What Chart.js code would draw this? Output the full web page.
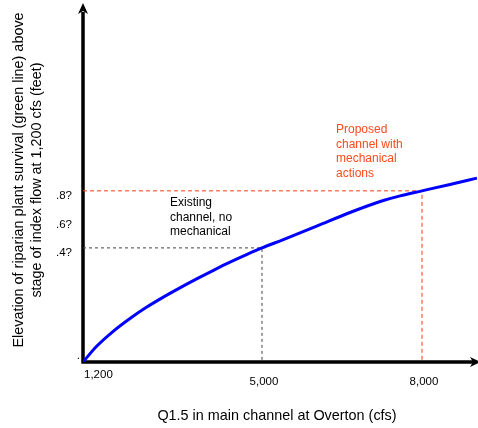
<!DOCTYPE html>
<html>
<head>
<meta charset="utf-8">
<script src="https://cdn.jsdelivr.net/npm/chart.js@4/dist/chart.umd.min.js"></script>
<style>
  html, body { margin: 0; padding: 0; background: #fff; }
  #wrap { width: 478px; height: 428px; }
</style>
</head>
<body>
<div id="wrap"><canvas id="grafico" width="478" height="428"></canvas></div>
<script>
// curve (cfs, feet)
const flow = [1644, 1900, 2210, 2525, 2840, 3150, 3460, 3775, 4090, 4400, 4710, 5000, 5400, 6025, 6650, 7275, 7590, 8000, 8525, 9030];
const elevation = [-0.40, -0.29, -0.185, -0.095, -0.015, 0.055, 0.12, 0.183, 0.243, 0.30, 0.353, 0.40, 0.458, 0.552, 0.648, 0.732, 0.765, 0.80, 0.845, 0.889];

// guide lines
const existing = { flow: 5000, elevation: 0.4 };
const proposed = { flow: 8000, elevation: 0.8 };

// axis range and ticks
const xMin = 1644, xMax = 9050;
const yMin = -0.4, yMax = 2.11;
const xTickValues = [xMin, 5000, 8000];
const xTickLabels = ['1,200', '5,000', '8,000'];
const yTickValues = [yMin, 0.4, 0.6, 0.8];
const yTickLabels = ['.', '.4?', '.6?', '.8?'];

const fonte = 'Arial, "Liberation Sans", sans-serif';

const curva = flow.map((v, i) => ({ x: v, y: elevation[i] }));
const guia = g => [{ x: xMin, y: g.elevation }, { x: g.flow, y: g.elevation }, { x: g.flow, y: yMin }];

const eixos = {
  id: 'eixos',
  beforeDatasetsDraw(chart) {
    const { ctx, chartArea: a } = chart;
    ctx.save();
    ctx.strokeStyle = '#000';
    ctx.fillStyle = '#000';
    ctx.lineWidth = 3.5;
    ctx.beginPath();
    ctx.moveTo(a.left, a.bottom + 1.5);
    ctx.lineTo(a.left, a.top + 8);
    ctx.moveTo(a.left - 1.5, a.bottom);
    ctx.lineTo(a.right - 4, a.bottom);
    ctx.stroke();
    // arrow heads
    ctx.beginPath();
    ctx.moveTo(a.left, a.top - 1);
    ctx.lineTo(a.left + 5, a.top + 10);
    ctx.lineTo(a.left, a.top + 7);
    ctx.lineTo(a.left - 5, a.top + 10);
    ctx.closePath();
    ctx.fill();
    ctx.beginPath();
    ctx.moveTo(a.right + 3, a.bottom);
    ctx.lineTo(a.right - 8, a.bottom - 5);
    ctx.lineTo(a.right - 5, a.bottom);
    ctx.lineTo(a.right - 8, a.bottom + 5);
    ctx.closePath();
    ctx.fill();
    ctx.restore();
  },
  afterDraw(chart) {
    const { ctx, chartArea: a, scales: { x, y } } = chart;
    ctx.save();
    ctx.fillStyle = '#000';
    ctx.font = '11.5px ' + fonte;
    ctx.textBaseline = 'middle';
    // x tick labels
    xTickValues.forEach((v, i) => {
      const px = x.getPixelForValue(v);
      if (i === 0) {
        ctx.textAlign = 'left';
        ctx.fillText(xTickLabels[i], px + 1, a.bottom + 13);
      } else {
        ctx.textAlign = 'center';
        ctx.fillText(xTickLabels[i], px + 2, a.bottom + 20);
      }
    });
    // y tick labels
    ctx.textAlign = 'right';
    yTickValues.forEach((v, i) => {
      const py = y.getPixelForValue(v);
      if (i === 0) ctx.fillText(yTickLabels[i], a.left - 3, py - 6);
      else ctx.fillText(yTickLabels[i], a.left - 11, py + 5);
    });
    // axis titles
    ctx.font = '14.4px ' + fonte;
    ctx.textAlign = 'center';
    ctx.fillText('Q1.5 in main channel at Overton (cfs)', 277, 416);
    ctx.save();
    ctx.translate(28, 180);
    ctx.rotate(-Math.PI / 2);
    ctx.fillText('Elevation of riparian plant survival (green line) above', 0, -9);
    ctx.fillText('stage of index flow at 1,200 cfs (feet)', 0, 9);
    ctx.restore();
    // notes
    ctx.font = '12px ' + fonte;
    ctx.textAlign = 'left';
    ['Existing', 'channel, no', 'mechanical'].forEach((t, i) => ctx.fillText(t, 170, 203 + i * 14.5));
    ctx.fillStyle = '#ff4a1c';
    ['Proposed', 'channel with', 'mechanical', 'actions'].forEach((t, i) => ctx.fillText(t, 336, 130 + i * 14.5));
    ctx.restore();
  }
};

new Chart(document.getElementById('grafico'), {
  type: 'line',
  data: {
    datasets: [
      {
        label: 'Curve',
        data: curva,
        borderColor: '#0000ff',
        borderWidth: 3,
        pointRadius: 0,
        cubicInterpolationMode: 'monotone',
        fill: false,
        order: 0
      },
      {
        label: 'Proposed',
        data: guia(proposed),
        borderColor: '#ff3b10',
        borderWidth: 1,
        borderDash: [4, 3],
        pointRadius: 0,
        tension: 0,
        order: 1
      },
      {
        label: 'Existing',
        data: guia(existing),
        borderColor: '#444',
        borderWidth: 1,
        borderDash: [3, 3],
        pointRadius: 0,
        tension: 0,
        order: 1
      }
    ]
  },
  options: {
    responsive: false,
    animation: false,
    devicePixelRatio: 1,
    layout: { padding: { left: 83, right: 0, top: 4, bottom: 66 } },
    plugins: { legend: { display: false }, tooltip: { enabled: false } },
    scales: {
      x: { type: 'linear', min: xMin, max: xMax, display: false },
      y: { type: 'linear', min: yMin, max: yMax, display: false }
    }
  },
  plugins: [eixos]
});
</script>
</body>
</html>
